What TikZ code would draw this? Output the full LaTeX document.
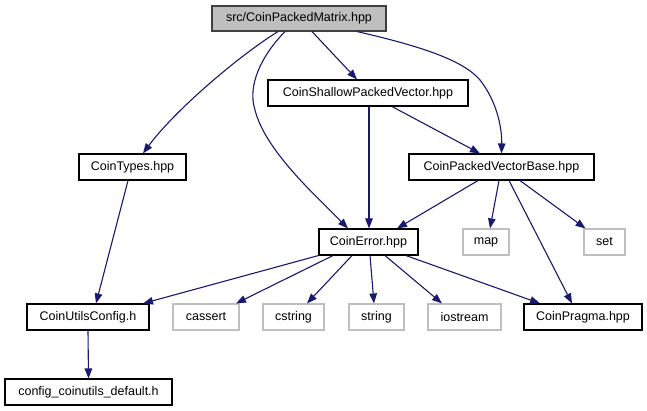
\documentclass[tikz,border=0pt]{standalone}
\usepackage{fontspec}
\setmainfont{Liberation Sans}
\usetikzlibrary{arrows.meta}
\definecolor{edgeblue}{HTML}{191970}
\definecolor{extgray}{HTML}{BFBFBF}
\definecolor{darkbd}{HTML}{404040}
\begin{document}
\begin{tikzpicture}[x=1pt,y=-1pt,
  box/.style={draw=black,line width=1.1pt,inner sep=0pt,font=\fontsize{12.5}{14}\selectfont},
  extbox/.style={box,draw=extgray},
  curbox/.style={box,draw=darkbd,fill=extgray},
  dep/.style={draw=edgeblue,line width=1.1pt,-{Triangle[length=10pt,width=7.5pt]}}]
\useasboundingbox (0,0) rectangle (647,411);
\fill[white] (0,0) rectangle (647,411);
% nodes
\node[curbox,minimum width=174pt,minimum height=25pt] (mat) at (299,18.5) {src/CoinPackedMatrix.hpp};
\node[box,minimum width=200pt,minimum height=26pt] (shal) at (368,93) {CoinShallowPackedVector.hpp};
\node[box,minimum width=107pt,minimum height=26pt] (types) at (132.5,167) {CoinTypes.hpp};
\node[box,minimum width=185pt,minimum height=26pt] (pvb) at (501.5,167) {CoinPackedVectorBase.hpp};
\node[box,minimum width=99pt,minimum height=26pt] (err) at (368.5,242) {CoinError.hpp};
\node[extbox,minimum width=46pt,minimum height=26pt] (map) at (486,242) {map};
\node[extbox,minimum width=41pt,minimum height=26pt] (set) at (604.5,242) {set};
\node[box,minimum width=122pt,minimum height=26pt] (ucfg) at (88,317) {CoinUtilsConfig.h};
\node[extbox,minimum width=66pt,minimum height=26pt] (cassert) at (206,317) {cassert};
\node[extbox,minimum width=61pt,minimum height=26pt] (cstring) at (293.5,317) {cstring};
\node[extbox,minimum width=55pt,minimum height=26pt] (string) at (376.5,317) {string};
\node[extbox,minimum width=73pt,minimum height=26pt] (iostream) at (464.5,317) {iostream};
\node[box,minimum width=118pt,minimum height=26pt] (pragma) at (583,317) {CoinPragma.hpp};
\node[box,minimum width=167pt,minimum height=26pt] (cfg) at (88.5,392) {config\_coinutils\_default.h};
% edges from CoinPackedMatrix
\draw[dep] ([xshift=-21pt]mat.south) .. controls (240,55) and (175,110) .. ([xshift=10.5pt]types.north);
\draw[dep] ([xshift=-14pt]mat.south) .. controls (262,55) and (247,85) .. (255,110) .. controls (265,150) and (315,195) .. ([xshift=-20.5pt]err.north);
\draw[dep] ([xshift=13pt]mat.south) -- ([xshift=-11pt]shal.north);
\draw[dep] ([xshift=58pt]mat.south) .. controls (420,46) and (463,60) .. (480,80) .. controls (498,103) and (502,130) .. (pvb.north);
% from CoinShallowPackedVector
\draw[dep] ([xshift=24pt]shal.south) -- ([xshift=-21.5pt]pvb.north);
\draw[dep] ([xshift=1pt]shal.south) -- ([xshift=0.5pt]err.north);
% from CoinTypes
\draw[dep] ([xshift=-4.5pt]types.south) -- ([xshift=8pt]ucfg.north);
% from CoinUtilsConfig
\draw[dep] (ucfg.south) -- (cfg.north);
% from CoinPackedVectorBase
\draw[dep] ([xshift=-23.5pt]pvb.south) -- ([xshift=28.5pt]err.north);
\draw[dep] ([xshift=-2.5pt]pvb.south) -- ([xshift=4pt]map.north);
\draw[dep] ([xshift=7.5pt]pvb.south) -- ([xshift=-11pt]pragma.north);
\draw[dep] ([xshift=18.5pt]pvb.south) -- ([xshift=-19pt]set.north);
% from CoinError
\draw[dep] (err.south west) -- ([xshift=55pt]ucfg.north);
\draw[dep] ([xshift=-35.5pt]err.south) -- ([xshift=30pt]cassert.north);
\draw[dep] ([xshift=-16.5pt]err.south) -- ([xshift=13.5pt]cstring.north);
\draw[dep] ([xshift=1.5pt]err.south) -- ([xshift=-2.5pt]string.north);
\draw[dep] ([xshift=16.5pt]err.south) -- ([xshift=-22.5pt]iostream.north);
\draw[dep] ([xshift=37.5pt]err.south) -- ([xshift=-43pt]pragma.north);
\end{tikzpicture}
\end{document}
